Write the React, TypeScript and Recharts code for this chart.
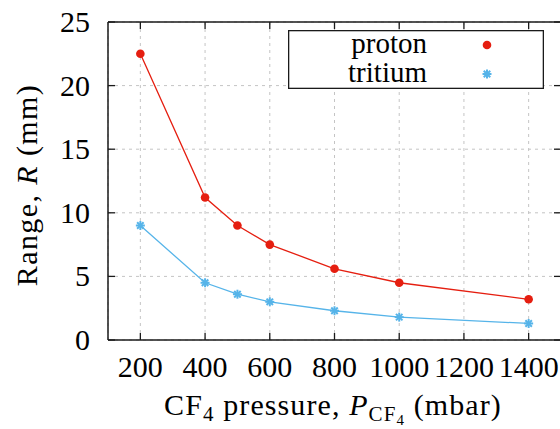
import React from 'react';
import { LineChart, Line, XAxis, YAxis, CartesianGrid, Legend } from 'recharts';

// CF4 pressure (mbar) and measured range (mm)
const pressure = [200, 400, 500, 600, 800, 1000, 1400];
const protonRange = [22.5, 11.2, 9.0, 7.5, 5.6, 4.5, 3.2];
const tritiumRange = [9.0, 4.5, 3.6, 3.0, 2.3, 1.8, 1.3];

const xTicks = [200, 400, 600, 800, 1000, 1200, 1400];
const yTicks = [0, 5, 10, 15, 20, 25];
const seriesNames = ['proton', 'tritium'];

const data = pressure.map((p, i) => ({ p, proton: protonRange[i], tritium: tritiumRange[i] }));

const FONT = "'Liberation Serif', 'DejaVu Serif', serif";
const txt = { fontFamily: FONT };
const frame = '#1a1a1a';
const red = '#e51e10';
const blue = '#56b4e9';
const TICK = 7;

const Star = ({ cx, cy, size = 4.5 }: any) => {
  if (cx == null || cy == null) return null;
  const d = size * 0.72;
  return (
    <g stroke={blue} strokeWidth={2}>
      <line x1={cx - size} y1={cy} x2={cx + size} y2={cy} />
      <line x1={cx} y1={cy - size} x2={cx} y2={cy + size} />
      <line x1={cx - d} y1={cy - d} x2={cx + d} y2={cy + d} />
      <line x1={cx - d} y1={cy + d} x2={cx + d} y2={cy - d} />
    </g>
  );
};

// ticks point into the plot, labels sit outside
const BottomTick = ({ x, y, payload }: any) => (
  <g>
    <line x1={x} y1={y} x2={x} y2={y - TICK} stroke={frame} strokeWidth={1.3} />
    <text x={x} y={y + 37} textAnchor="middle" style={txt} fontSize={30} fill="#000">{payload.value}</text>
  </g>
);

const LeftTick = ({ x, y, payload }: any) => (
  <g>
    <line x1={x} y1={y} x2={x + TICK} y2={y} stroke={frame} strokeWidth={1.3} />
    <text x={x - 18} y={y + 10} textAnchor="end" style={txt} fontSize={30} fill="#000">{payload.value}</text>
  </g>
);

const TopTick = ({ x, y }: any) => (
  <line x1={x} y1={y} x2={x} y2={y + TICK} stroke={frame} strokeWidth={1.3} />
);

const RightTick = ({ x, y }: any) => (
  <line x1={x} y1={y} x2={x - TICK} y2={y} stroke={frame} strokeWidth={1.3} />
);

const XLabel = () => (
  <text x={333} y={415} textAnchor="middle" style={txt} fontSize={30} letterSpacing={1.1} fill="#000">
    <tspan>CF</tspan>
    <tspan fontSize={21} dy={6}>4</tspan>
    <tspan dy={-6}> pressure, </tspan>
    <tspan fontStyle="italic">P</tspan>
    <tspan fontSize={21} dy={6}>CF</tspan>
    <tspan fontSize={15} dy={4}>4</tspan>
    <tspan dy={-10}> (mbar)</tspan>
  </text>
);

const YLabel = () => {
  const x = 37;
  const cy = 185;
  return (
    <text x={x} y={cy} transform={`rotate(-90, ${x}, ${cy})`} textAnchor="middle" style={txt} fontSize={30} letterSpacing={1.4} fill="#000">
      <tspan>Range, </tspan>
      <tspan fontStyle="italic">R</tspan>
      <tspan> (mm)</tspan>
    </text>
  );
};

const LegendBox = () => (
  <svg width={256} height={59} style={{ display: 'block', overflow: 'visible' }}>
    <rect x={0.65} y={0.65} width={254.7} height={57.7} fill="#fff" stroke={frame} strokeWidth={1.3} />
    <text x={139} y={23} textAnchor="end" style={txt} fontSize={29} fill="#000">{seriesNames[0]}</text>
    <circle cx={199} cy={15} r={4.3} fill={red} />
    <text x={139} y={52} textAnchor="end" style={txt} fontSize={29} fill="#000">{seriesNames[1]}</text>
    <Star cx={199} cy={44} />
  </svg>
);

export default function App() {
  const axisLine = { stroke: frame, strokeWidth: 1.5 };
  return (
    <div style={{ position: 'absolute', left: 0, top: 0, width: 560, height: 429, overflow: 'hidden', background: '#fff' }}>
      <LineChart width={600} height={429} data={data} margin={{ top: 0, right: 0, bottom: 0, left: 0 }}>
        <CartesianGrid strokeDasharray="3 4" stroke="#c4c4c4" />
        <XAxis
          dataKey="p" type="number" domain={[100, 1500]} ticks={xTicks} allowDataOverflow
          height={89} tickLine={false} tickSize={0} tickMargin={0} tick={<BottomTick />}
          axisLine={axisLine} label={<XLabel />}
        />
        <XAxis
          xAxisId="top" orientation="top" dataKey="p" type="number" domain={[100, 1500]} ticks={xTicks} allowDataOverflow
          height={22} tickLine={false} tickSize={0} tickMargin={0} tick={<TopTick />} axisLine={axisLine}
        />
        <YAxis
          type="number" domain={[0, 25]} ticks={yTicks} allowDataOverflow
          width={108} tickLine={false} tickSize={0} tickMargin={0} tick={<LeftTick />}
          axisLine={axisLine} label={<YLabel />}
        />
        <YAxis
          yAxisId="rgt" orientation="right" type="number" domain={[0, 25]} ticks={yTicks} allowDataOverflow
          width={39} tickLine={false} tickSize={0} tickMargin={0} tick={<RightTick />} axisLine={axisLine}
        />
        <Legend
          layout="horizontal" verticalAlign="middle" align="center"
          wrapperStyle={{ top: 30, left: 288, width: 256, height: 59 }}
          content={<LegendBox />}
        />
        <Line
          dataKey="proton" name={seriesNames[0]} stroke={red} strokeWidth={1.3} isAnimationActive={false}
          dot={{ r: 4.3, fill: red, stroke: red, strokeWidth: 0 }} activeDot={false}
        />
        <Line
          dataKey="tritium" name={seriesNames[1]} stroke={blue} strokeWidth={1.3} isAnimationActive={false}
          dot={(props: any) => <Star key={`s-${props.index}`} cx={props.cx} cy={props.cy} />} activeDot={false}
        />
      </LineChart>
    </div>
  );
}
